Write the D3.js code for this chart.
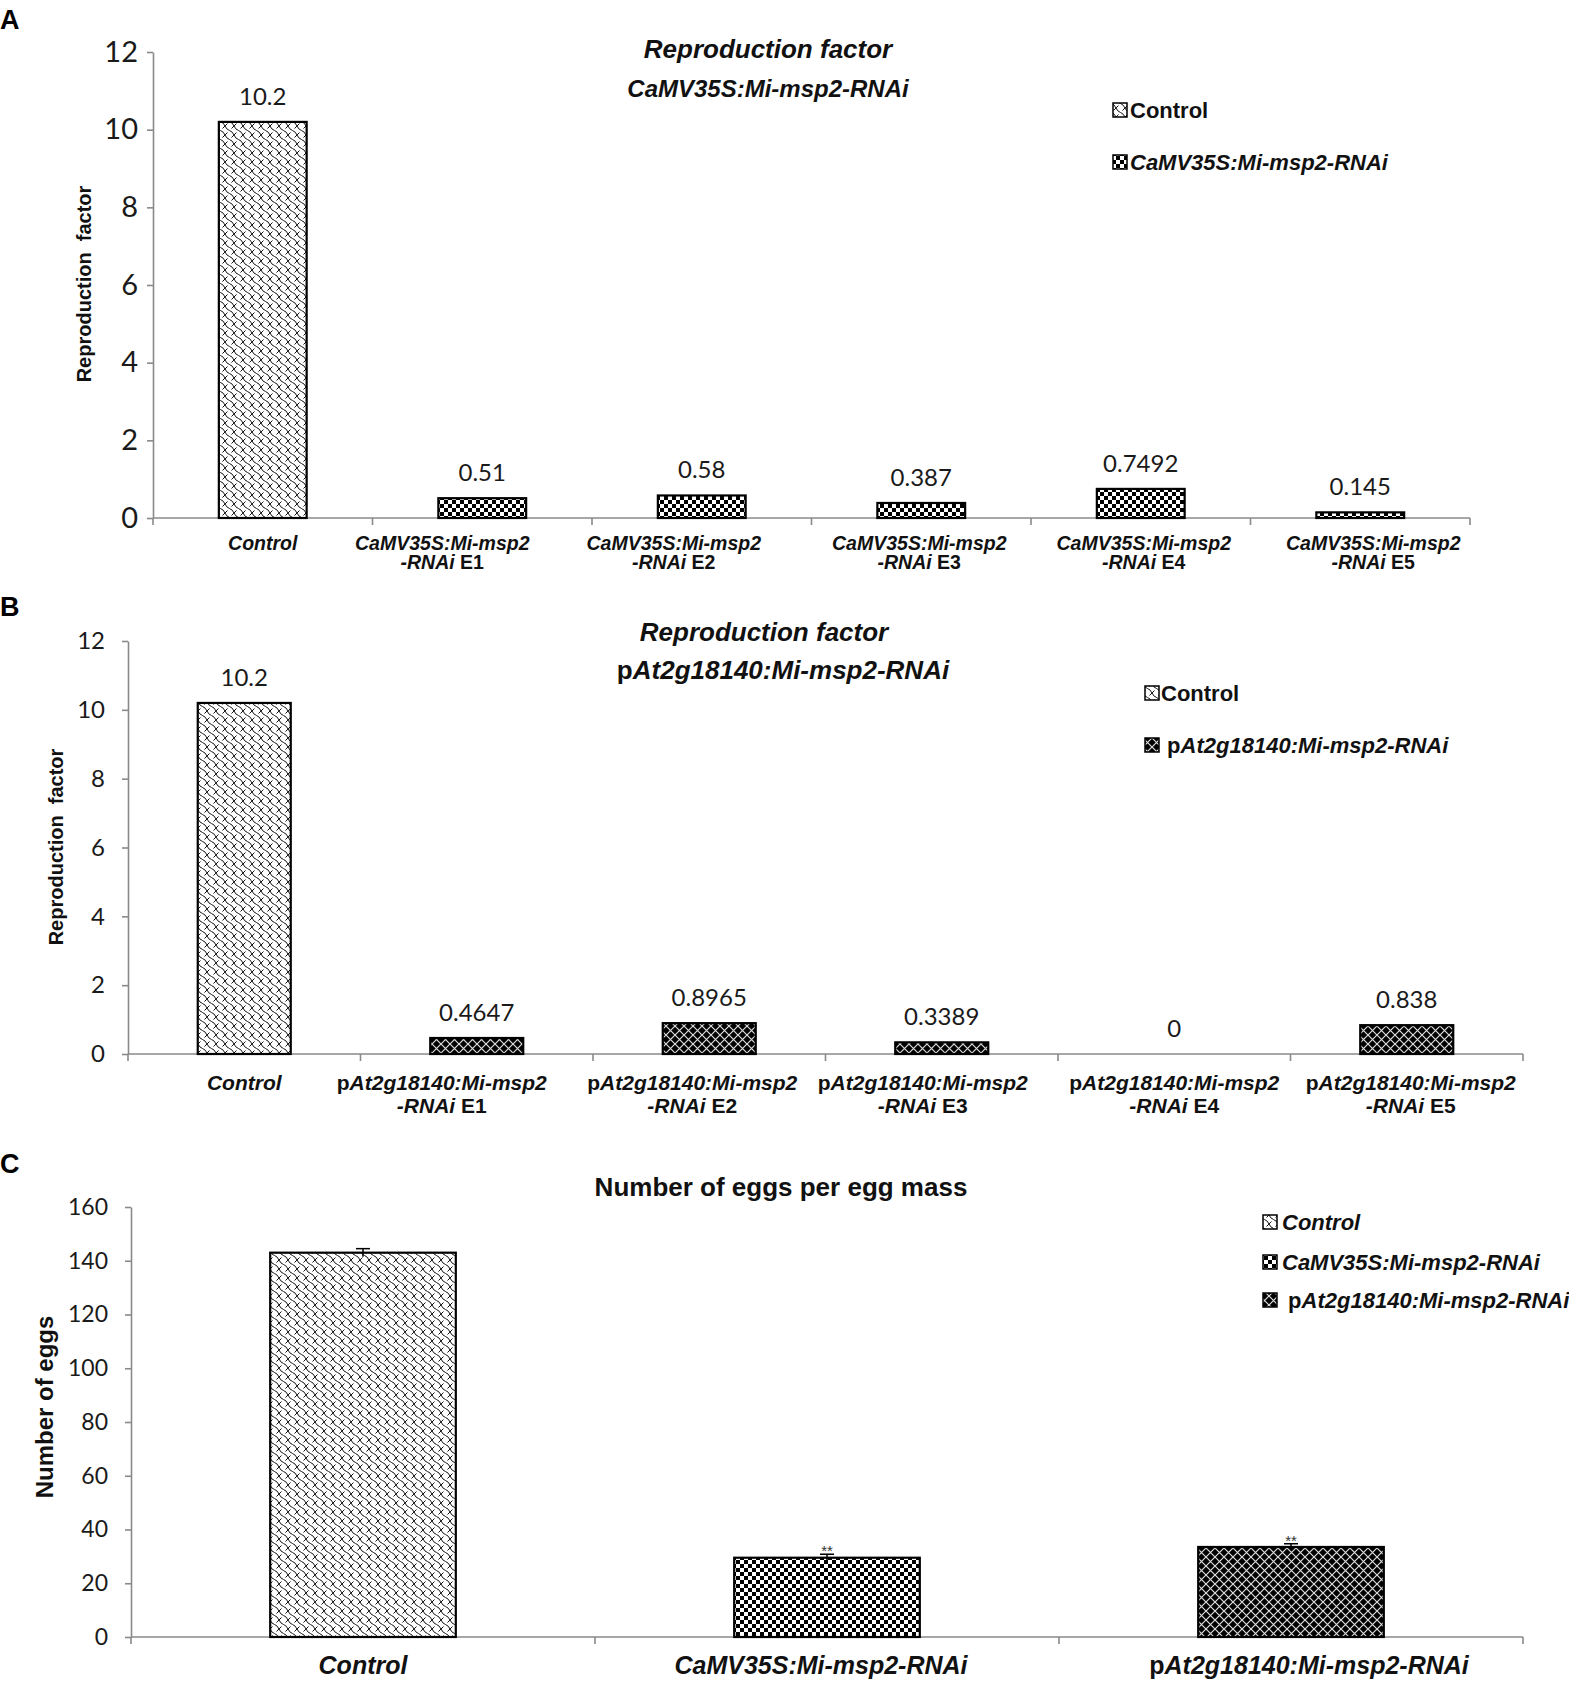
<!DOCTYPE html>
<html><head><meta charset="utf-8">
<script src="https://cdn.jsdelivr.net/npm/d3@7"></script>
<style>body{margin:0;background:#fff}svg{display:block}</style>
</head><body><svg id="c" width="1569" height="1683"></svg>
<script>
// ---------- DATA ----------
const catsA = ["Control","CaMV35S:Mi-msp2|-RNAi E1","CaMV35S:Mi-msp2|-RNAi E2","CaMV35S:Mi-msp2|-RNAi E3","CaMV35S:Mi-msp2|-RNAi E4","CaMV35S:Mi-msp2|-RNAi E5"];
const valsA = [10.2, 0.51, 0.58, 0.387, 0.7492, 0.145];
const seriesA = ["ctrl","camv","camv","camv","camv","camv"];
const catsB = ["Control","pAt2g18140:Mi-msp2|-RNAi E1","pAt2g18140:Mi-msp2|-RNAi E2","pAt2g18140:Mi-msp2|-RNAi E3","pAt2g18140:Mi-msp2|-RNAi E4","pAt2g18140:Mi-msp2|-RNAi E5"];
const valsB = [10.2, 0.4647, 0.8965, 0.3389, 0, 0.838];
const seriesB = ["ctrl","pat","pat","pat","pat","pat"];
const catsC = ["Control","CaMV35S:Mi-msp2-RNAi","pAt2g18140:Mi-msp2-RNAi"];
const valsC = [143, 29.5, 33.5];
const errC = [1.5, 1.3, 1.2];
const sigC = ["", "**", "**"];
const seriesC = ["ctrl","camv","pat"];
const ticksRF = [0,2,4,6,8,10,12];
const ticksEggs = [0,20,40,60,80,100,120,140,160];
const legendA = [["ctrl","Control",false],["camv","CaMV35S:Mi-msp2-RNAi",true]];
const legendB = [["ctrl","Control",false],["pat"," pAt2g18140:Mi-msp2-RNAi",true]];
const legendC = [["ctrl","Control",true],["camv","CaMV35S:Mi-msp2-RNAi",true],["pat"," pAt2g18140:Mi-msp2-RNAi",true]];

// ---------- SETUP ----------
const svg = d3.select("#c");
svg.append("rect").attr("width",1569).attr("height",1683).attr("fill","#fff");
const defs = svg.append("defs");
const BOLD = "'Liberation Sans', Arial, sans-serif";
const NUM = "Lato, 'Open Sans', sans-serif";

// patterns
(function(){
  let p = defs.append("pattern").attr("id","ctrl").attr("patternUnits","userSpaceOnUse").attr("width",9).attr("height",9);
  p.append("rect").attr("width",9).attr("height",9).attr("fill","#fff");
  p.append("path").attr("d","M0,0 Q1.5,3.5 4.5,4.5 T9,9").attr("fill","none").attr("stroke","#111").attr("stroke-width",1);
  p.append("path").attr("d","M9,0 L6.5,2.5 M2.5,6.5 L0,9").attr("fill","none").attr("stroke","#111").attr("stroke-width",1);
  p = defs.append("pattern").attr("id","camv").attr("patternUnits","userSpaceOnUse").attr("width",8).attr("height",8);
  p.append("rect").attr("width",8).attr("height",8).attr("fill","#fff");
  p.append("rect").attr("width",4).attr("height",4).attr("fill","#000");
  p.append("rect").attr("x",4).attr("y",4).attr("width",4).attr("height",4).attr("fill","#000");
  p = defs.append("pattern").attr("id","pat").attr("patternUnits","userSpaceOnUse").attr("width",9).attr("height",9);
  p.append("rect").attr("width",9).attr("height",9).attr("fill","#000");
  p.append("path").attr("d","M0,0 L9,9 M9,0 L0,9").attr("stroke","#ddd").attr("stroke-width",1.2);
})();

// styled text segments: leading "p" upright before "At", trailing " E#" upright, rest italic
function segments(str, italic){
  const out = [];
  let s = str, tail = null;
  const lead = s.match(/^(\s?p)(At)/);
  if (lead){ out.push([lead[1], false]); s = s.slice(lead[1].length); }
  const m = s.match(/( E\d)$/);
  if (m){ tail = m[1]; s = s.slice(0, s.length - tail.length); }
  out.push([s, italic]);
  if (tail) out.push([tail, false]);
  return out;
}
function styledText(g, str, x, y, size, anchor, italic){
  const t = g.append("text").attr("x",x).attr("y",y).attr("text-anchor",anchor)
    .attr("font-family",BOLD).attr("font-weight","bold").attr("font-size",size).attr("fill","#111")
    .attr("xml:space","preserve").style("white-space","pre");
  segments(str, italic).forEach(([txt,it]) => t.append("tspan").attr("font-style", it ? "italic" : "normal").text(txt));
  return t;
}

function panel(cfg){
  const g = svg.append("g");
  const y = d3.scaleLinear().domain([0, cfg.ticks[cfg.ticks.length-1]]).range(cfg.yRange);
  const x = d3.scaleBand().domain(cfg.cats).range(cfg.xRange).paddingInner(0.6).paddingOuter(0.3);
  // panel letter
  g.append("text").attr("x",cfg.letter[1]).attr("y",cfg.letter[2]).attr("font-family",BOLD)
    .attr("font-weight","bold").attr("font-size",27).attr("fill","#000").text(cfg.letter[0]);
  // y axis
  const ya = g.append("g").attr("transform",`translate(${cfg.xRange[0]},0)`)
    .call(d3.axisLeft(y).tickValues(cfg.ticks).tickSize(6).tickSizeOuter(0).tickPadding(cfg.tickPad));
  ya.select(".domain").attr("stroke","#8a8a8a").attr("stroke-width",1.6);
  ya.selectAll(".tick line").attr("stroke","#8a8a8a").attr("stroke-width",1.6);
  ya.selectAll(".tick text").attr("font-family",NUM).attr("font-size",cfg.tickSize).attr("fill","#1a1a1a");
  // x axis with category boundary ticks
  const step = x.step(), x0 = x.range()[0], y0 = y(0);
  g.append("line").attr("x1",x0).attr("x2",x.range()[1]).attr("y1",y0).attr("y2",y0)
    .attr("stroke","#8a8a8a").attr("stroke-width",1.6);
  g.selectAll(".bt").data(d3.range(cfg.cats.length+1)).join("line")
    .attr("x1",i=>x0+i*step).attr("x2",i=>x0+i*step).attr("y1",y0).attr("y2",y0+7)
    .attr("stroke","#8a8a8a").attr("stroke-width",1.6);
  // bars
  const data = cfg.cats.map((c,i)=>({c, i, v:cfg.vals[i], s:cfg.series[i], e:cfg.err?cfg.err[i]:0, sig:cfg.sig?cfg.sig[i]:""}));
  g.selectAll(".bar").data(data.filter(d=>d.v>0)).join("rect")
    .attr("x",d=>x(d.c)).attr("width",x.bandwidth())
    .attr("y",d=>y(d.v)).attr("height",d=>y(0)-y(d.v))
    .attr("fill",d=>`url(#${d.s})`).attr("stroke","#000").attr("stroke-width",2.2);
  // value labels
  if (cfg.showVals){
    g.selectAll(".vl").data(data).join("text")
      .attr("x",d=>x(d.c)+x.bandwidth()/2).attr("y",d=>y(d.v)-17).attr("text-anchor","middle")
      .attr("font-family",NUM).attr("font-size",24).attr("fill","#1a1a1a").text(d=>String(d.v));
  }
  // error bars
  if (cfg.err){
    data.forEach(d=>{
      const cx = x(d.c)+x.bandwidth()/2;
      g.append("line").attr("x1",cx).attr("x2",cx).attr("y1",y(d.v-d.e)).attr("y2",y(d.v+d.e)).attr("stroke","#000").attr("stroke-width",1.5);
      g.append("line").attr("x1",cx-7).attr("x2",cx+7).attr("y1",y(d.v+d.e)).attr("y2",y(d.v+d.e)).attr("stroke","#000").attr("stroke-width",1.5);
      if (d.sig) g.append("text").attr("x",cx).attr("y",y(d.v+d.e)+2).attr("text-anchor","middle")
        .attr("font-family",BOLD).attr("font-size",15).attr("fill","#333").text(d.sig);
    });
  }
  // category labels (slight per-label horizontal shifts as in the original layout)
  data.forEach(d=>{
    const cx = x(d.c)+x.bandwidth()/2 + (cfg.catShift ? cfg.catShift[d.i] : 0);
    const lines = d.c.split("|");
    lines.forEach((ln,k)=> styledText(g, ln, cx, cfg.catY[k], cfg.catSize, "middle", true));
  });
  // y label
  g.append("text").attr("transform",`translate(${cfg.yLabel[1]},${cfg.yLabel[2]}) rotate(-90)`)
    .attr("text-anchor","middle").attr("dominant-baseline","middle")
    .attr("font-family",BOLD).attr("font-weight","bold").attr("font-size",cfg.yLabelSize).attr("fill","#111")
    .style("white-space","pre").text(cfg.yLabel[0]);
  // titles
  cfg.titles.forEach(t=>{
    const el = styledText(g, t.text, t.x, t.y, t.size, "middle", t.italic);
    if (t.clip){
      const id = "clip"+Math.round(t.y);
      defs.append("clipPath").attr("id",id).append("rect").attr("x",0).attr("y",t.y-40).attr("width",1569).attr("height",41);
      el.attr("clip-path",`url(#${id})`);
    }
  });
  // legend
  cfg.legend.forEach(([pid,label,it],i)=>{
    const ly = cfg.legendPos[2][i];
    g.append("rect").attr("x",cfg.legendPos[0]).attr("y",ly-7).attr("width",14).attr("height",14)
      .attr("fill",`url(#${pid})`).attr("stroke","#000").attr("stroke-width",1.5);
    styledText(g, label, cfg.legendPos[1], ly+8, 22, "start", it);
  });
}

panel({cats:catsA, vals:valsA, series:seriesA, ticks:ticksRF, yRange:[518,52], xRange:[153,1470],
  letter:["A",0,29], showVals:true, catY:[550,569], catSize:19.5, tickSize:29, tickPad:9,
  catShift:[0,-40,-28,-2,3,13],
  yLabel:["Reproduction  factor",86,284], yLabelSize:20,
  titles:[{text:"Reproduction factor",x:768,y:58,italic:true,size:26},{text:"CaMV35S:Mi-msp2-RNAi",x:768,y:97,italic:true,size:24}],
  legend:legendA, legendPos:[1113,1130,[110,162]]});

panel({cats:catsB, vals:valsB, series:seriesB, ticks:ticksRF, yRange:[1054,641], xRange:[128,1523],
  letter:["B",0,616], showVals:true, catY:[1090,1113], catSize:21, tickSize:24, tickPad:17,
  catShift:[0,-35,-17,-19,0,4],
  yLabel:["Reproduction  factor",58,847], yLabelSize:20,
  titles:[{text:"Reproduction factor",x:764,y:641,italic:true,size:26},{text:"pAt2g18140:Mi-msp2-RNAi",x:783,y:679,italic:true,size:26}],
  legend:legendB, legendPos:[1145,1161,[693,745]]});

panel({cats:catsC, vals:valsC, series:seriesC, ticks:ticksEggs, yRange:[1637,1207], xRange:[131,1523],
  letter:["C",0,1173], showVals:false, err:errC, sig:sigC, catY:[1674], catSize:25, tickSize:23, tickPad:17,
  catShift:[0,-6,18],
  yLabel:["Number of eggs",47,1407], yLabelSize:24,
  titles:[{text:"Number of eggs per egg mass",x:781,y:1196,italic:false,size:26}],
  legend:legendC, legendPos:[1263,1282,[1222,1262,1300]]});
</script></body></html>
